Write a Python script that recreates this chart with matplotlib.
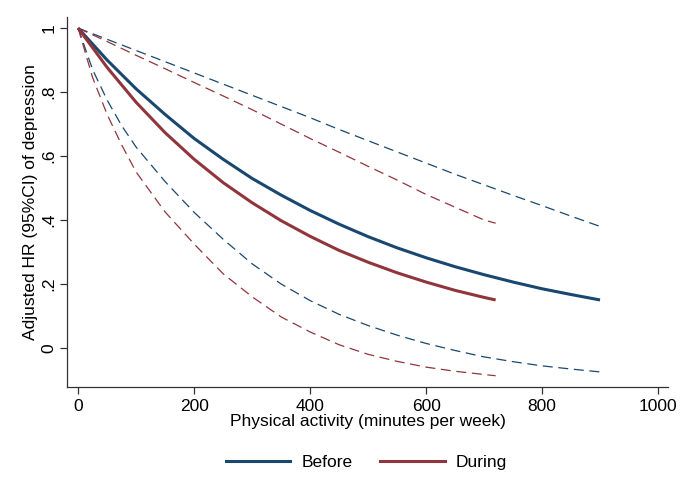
import matplotlib
matplotlib.use("Agg")
import matplotlib.pyplot as plt
from matplotlib.lines import Line2D

plt.rcParams['font.family'] = ['Liberation Sans', 'DejaVu Sans']

# Before (pre-pandemic)
before_x = [0, 50, 100, 150, 200, 250, 300, 350, 400, 450, 500, 550, 600, 650, 700, 750, 800, 850, 900]
before_hr = [1.0, 0.90, 0.81, 0.73, 0.655, 0.59, 0.53, 0.478, 0.43, 0.387, 0.348, 0.313, 0.282,
             0.254, 0.229, 0.206, 0.185, 0.167, 0.15]
before_up_x = [0, 50, 100, 150, 200, 250, 300, 350, 400, 450, 500, 550, 600, 650, 700, 750, 800, 850, 900]
before_up = [1.0, 0.965, 0.93, 0.895, 0.86, 0.825, 0.79, 0.755, 0.72, 0.683, 0.648, 0.613, 0.578,
             0.543, 0.51, 0.477, 0.445, 0.412, 0.38]
before_lo_x = [0, 25, 50, 75, 100, 150, 200, 250, 300, 350, 400, 450, 500, 550, 600, 650, 700,
               750, 800, 850, 900]
before_lo = [1.0, 0.87, 0.775, 0.695, 0.628, 0.52, 0.424, 0.34, 0.263, 0.2, 0.148, 0.105, 0.07,
             0.04, 0.014, -0.008, -0.028, -0.043, -0.056, -0.066, -0.075]

# During
during_x = [0, 50, 100, 150, 200, 250, 300, 350, 400, 450, 500, 550, 600, 650, 700, 720]
during_hr = [1.0, 0.877, 0.768, 0.673, 0.59, 0.517, 0.454, 0.398, 0.349, 0.305, 0.268, 0.235,
             0.206, 0.18, 0.158, 0.15]
during_up_x = [0, 50, 100, 150, 200, 250, 300, 350, 400, 450, 500, 550, 600, 650, 700, 720]
during_up = [1.0, 0.958, 0.915, 0.873, 0.83, 0.788, 0.745, 0.70, 0.655, 0.612, 0.568, 0.525,
             0.48, 0.44, 0.40, 0.39]
during_lo_x = [0, 25, 50, 75, 100, 150, 200, 250, 300, 350, 400, 450, 500, 550, 600, 650, 700, 720]
during_lo = [1.0, 0.845, 0.73, 0.635, 0.55, 0.425, 0.325, 0.232, 0.16, 0.097, 0.05, 0.01, -0.02,
             -0.042, -0.06, -0.073, -0.083, -0.087]

x_ticks = [0, 200, 400, 600, 800, 1000]
y_ticks = [0, 0.2, 0.4, 0.6, 0.8, 1.0]
y_ticklabels = ['0', '.2', '.4', '.6', '.8', '1']

blue = '#1a476f'
red = '#90353b'

fig = plt.figure(figsize=(6.85, 4.98), dpi=100)
ax = fig.add_axes([0.098, 0.223, 0.877, 0.743])

dash = (0, (8, 4.5))
ax.plot(before_up_x, before_up, color=blue, lw=0.9, ls=dash)
ax.plot(before_lo_x, before_lo, color=blue, lw=0.9, ls=dash)
ax.plot(during_up_x, during_up, color=red, lw=0.9, ls=dash)
ax.plot(during_lo_x, during_lo, color=red, lw=0.9, ls=dash)
ax.plot(before_x, before_hr, color=blue, lw=2.2, solid_capstyle='butt', solid_joinstyle='round')
ax.plot(during_x, during_hr, color=red, lw=2.2, solid_capstyle='butt', solid_joinstyle='round')

ax.set_xlim(-19, 1017)
ax.set_ylim(-0.122, 1.035)
ax.set_xticks(x_ticks)
ax.set_xticklabels([str(t) for t in x_ticks])
ax.set_yticks(y_ticks)
ax.set_yticklabels(y_ticklabels, rotation=90, va='center')

for s in ['top', 'right']:
    ax.spines[s].set_visible(False)
for s in ['left', 'bottom']:
    ax.spines[s].set_color('#333333')
    ax.spines[s].set_linewidth(0.9)
ax.tick_params(axis='both', direction='out', length=5, width=0.9, color='#333333',
               labelsize=12.5, labelcolor='black', pad=4)
ax.tick_params(axis='y', pad=2.5)

ax.set_xlabel('Physical activity (minutes per week)', fontsize=12.5, labelpad=0)
ax.set_ylabel('Adjusted HR (95%CI) of depression', fontsize=12.5, labelpad=3)

handles = [Line2D([0], [0], color=blue, lw=2.2), Line2D([0], [0], color=red, lw=2.2)]
fig.legend(handles, ['Before', 'During'], loc='center', bbox_to_anchor=(0.535, 0.072),
           ncol=2, frameon=False, fontsize=12.5, handlelength=3.7, columnspacing=1.6,
           handletextpad=0.65)

fig.savefig('out.png', dpi=100, facecolor='white')
